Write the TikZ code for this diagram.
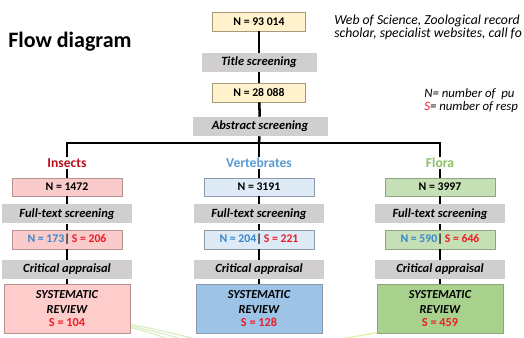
\documentclass[tikz,border=0pt]{standalone}
\usepackage{fontspec}
\setmainfont{Carlito}
\definecolor{yfill}{HTML}{FFF2CC}
\definecolor{ybord}{HTML}{A89A78}
\definecolor{gfill}{HTML}{D0CECE}
\definecolor{pfill}{HTML}{F9CBCB}
\definecolor{pbord}{HTML}{B99090}
\definecolor{bfill}{HTML}{DEEBF7}
\definecolor{bbord}{HTML}{8C9AAC}
\definecolor{lgfill}{HTML}{C5E0B4}
\definecolor{lgbord}{HTML}{8FA383}
\definecolor{srblue}{HTML}{9DC3E6}
\definecolor{srgreen}{HTML}{A9D18E}
\definecolor{srpink}{HTML}{FFCCCC}
\definecolor{sred}{HTML}{EE1C25}
\definecolor{insred}{HTML}{B8101C}
\definecolor{nblue}{HTML}{3A86C8}
\definecolor{vblue}{HTML}{5B9BD5}
\definecolor{fgreen}{HTML}{8CC063}
\definecolor{decog}{HTML}{DCEDC8}
\begin{document}
\begin{tikzpicture}[x=0.75pt,y=-0.75pt,
  conn/.style={line width=1.9pt, black},
  basebox/.style={inner sep=0pt, line width=0.6pt, font=\bfseries\fontsize{8.8}{10}\selectfont},
  ybox/.style={basebox, draw=ybord, fill=yfill, minimum width=93*0.75pt, minimum height=19*0.75pt},
  gbox/.style={inner sep=0pt, fill=gfill, font=\bfseries\itshape\fontsize{9.4}{11}\selectfont, minimum height=19*0.75pt},
  catbox/.style={basebox, minimum width=110*0.75pt, minimum height=18*0.75pt},
  nsbox/.style={basebox, minimum width=110*0.75pt, minimum height=19*0.75pt},
  srbox/.style={inner sep=0pt, line width=0.6pt, minimum width=126*0.75pt, minimum height=49*0.75pt, align=center, font=\bfseries\itshape\fontsize{9.2}{10}\selectfont},
  catlabel/.style={fill=white, inner sep=1pt, font=\bfseries\fontsize{10.2}{12}\selectfont},
  note/.style={anchor=west, inner sep=0pt, font=\itshape\fontsize{10.3}{12}\selectfont},
  legend/.style={anchor=west, inner sep=0pt, font=\itshape\fontsize{9.6}{11}\selectfont},
  deco/.style={decog, line width=0.9pt}
]
\useasboundingbox (0,0) rectangle (524,338);
\clip (0,0) rectangle (524,338);
\fill[white] (0,0) rectangle (524,338);

% decorative background swooshes
\draw[deco] (112,321) .. controls (150,328) and (175,333) .. (205,342);
\draw[deco] (120,324) .. controls (150,330) and (170,335) .. (190,342);
\draw[deco] (128,327) .. controls (150,332) and (160,336) .. (175,342);
\draw[deco, draw=decog!80!yellow] (330,342) .. controls (350,337) and (365,335) .. (385,331);

% title
\node[anchor=west, inner sep=0pt, font=\bfseries\fontsize{16.5}{19}\selectfont] (ttl) at (8,42) {Flow diagram};

% notes
\node[note] (src1) at (334,20.5) {Web of Science, Zoological record};
\node[note] (src2) at (334,34) {scholar, specialist websites, call fo};
\node[legend] (legN) at (424,94) {N= number of\ \ pu};
\node[legend] (legS) at (424,107) {{\color{sred}S}= number of resp};

% coordinates
\coordinate (barL) at (67,143);
\coordinate (barM) at (259,143);
\coordinate (barR) at (440,143);

% main column nodes
\node[ybox] (n1) at (259,21.5) {N = 93 014};
\node[gbox, minimum width=115*0.75pt] (ts) at (259,62.5) {Title screening};
\node[ybox] (n2) at (259,92.5) {N = 28 088};
\node[gbox, minimum width=135*0.75pt] (as) at (260,126.5) {Abstract screening};

% column nodes
\foreach \id/\x/\nc/\nn/\ss/\cf/\cb/\srf/\sr in {
  I/67/1472/173/206/pfill/pbord/srpink/104,
  V/259/3191/204/221/bfill/bbord/srblue/128,
  F/440/3997/590/646/lgfill/lgbord/srgreen/459}{
  \node[catbox, draw=\cb, fill=\cf] (cat\id) at (\x,187) {N = \nc};
  \node[gbox, minimum width=130*0.75pt] (ft\id) at (\x,214) {Full-text screening};
  \node[nsbox, draw=\cb, fill=\cf] (ns\id) at (\x,239.5) {{\color{nblue}N = \nn}{\color{black}|}\,{\color{sred}S = \ss}};
  \node[gbox, minimum width=130*0.75pt] (ca\id) at (\x,269.5) {Critical appraisal};
  \node[srbox, draw=\cb, fill=\srf] (sr\id) at (\x,308.5) {SYSTEMATIC\\[1pt]REVIEW\\[0pt]{\upshape\color{sred}S = \sr}};
}

% connectors
\draw[conn] (n1) -- (ts);
\draw[conn] (ts) -- (n2);
\draw[conn] (n2) -- (as);
\draw[conn] (as) -- (barM);
\draw[conn] ([yshift=-0.5pt]barL) -- (barL) -- (barR) -- ([yshift=-0.5pt]barR);
\foreach \id/\c in {I/barL, V/barM, F/barR}{
  \draw[conn] (\c) -- (cat\id);
  \draw[conn] (cat\id) -- (ft\id);
  \draw[conn] (ft\id) -- (ns\id);
  \draw[conn] (ns\id) -- (ca\id);
  \draw[conn] (ca\id) -- (sr\id);
}

% category labels (on top of lines)
\node[catlabel, text=insred] (labI) at (67,163) {Insects};
\node[catlabel, text=vblue] (labV) at (259,163) {Vertebrates};
\node[catlabel, text=fgreen] (labF) at (440,163) {Flora};
\end{tikzpicture}
\end{document}
